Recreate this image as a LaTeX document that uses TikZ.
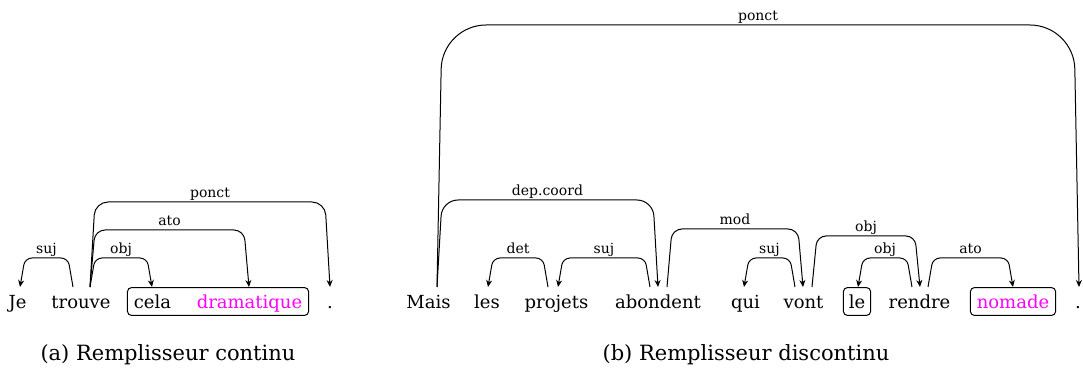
\documentclass[tikz,border=0pt]{standalone}
\usepackage{fontspec}
\setmainfont{DejaVu Serif}
\usetikzlibrary{arrows.meta,calc,fit}
\definecolor{pmag}{RGB}{255,0,255}
\newcommand\deparc[7]{%
  \draw[depedge, rounded corners=#5] (#1) -- ($(#1)+(#3*5,#4-287)$)
    -- node[lbl, midway, yshift=2pt] (#7) {#6} ($(#2)+(-#3*5,#4-287)$) -- (#2);}
\begin{document}
\begin{tikzpicture}[x=0.5pt,y=-0.5pt,
  word/.style={anchor=base, inner sep=0pt, font=\fontsize{9}{11}\selectfont, text height=8.5pt, text depth=2pt},
  hl/.style={text=pmag},
  fbox/.style={draw, rounded corners=2pt, line width=0.5pt, inner xsep=3pt, inner ysep=1.5pt},
  depedge/.style={line width=0.5pt, -{Stealth[length=3.5pt,width=3pt]}},
  lbl/.style={font=\fontsize{7}{8}\selectfont, anchor=base, inner sep=0pt},
  captxt/.style={anchor=base, font=\fontsize{10.5}{12}\selectfont, inner sep=0pt}]
\useasboundingbox (0,0) rectangle (1083,369);
% ---- (a) words
\node[word] (Je) at (17.5,308) {Je};
\node[word] (trouve) at (81,308) {trouve};
\node[word] (cela) at (152.5,308) {cela};
\node[word, hl] (dramatique) at (249.5,308) {dramatique};
\node[word] (pointa) at (330,308) {.};
\node[fbox, fit=(cela)(dramatique)] (boxa) {};
% ---- (b) words
\node[word] (Mais) at (428.5,308) {Mais};
\node[word] (les) at (487,308) {les};
\node[word] (projets) at (556.5,308) {projets};
\node[word] (abondent) at (658,308) {abondent};
\node[word] (qui) at (745.5,308) {qui};
\node[word] (vont) at (803.5,308) {vont};
\node[word] (le) at (857,308) {le};
\node[word] (rendre) at (919.5,308) {rendre};
\node[word, hl] (nomade) at (1013,308) {nomade};
\node[word] (pointb) at (1078,308) {.};
\node[fbox, inner xsep=2.5pt, fit=(le)] (boxle) {};
\node[fbox, fit=(nomade)] (boxnomade) {};
% ---- arc end points
\coordinate (Je-in) at (20,287);
\coordinate (trouve-o1) at (73,287);
\coordinate (trouve-o2) at (90,287);
\coordinate (cela-in) at (152,287);
\coordinate (dram-in) at (249,287);
\coordinate (pointa-in) at (330,287);
\coordinate (Mais-o) at (437,287);
\coordinate (les-in) at (488,287);
\coordinate (projets-o) at (548,287);
\coordinate (projets-in) at (558,287);
\coordinate (abondent-o1) at (650,287);
\coordinate (abondent-in) at (658,287);
\coordinate (abondent-o2) at (667,287);
\coordinate (qui-in) at (744,287);
\coordinate (vont-o1) at (795,287);
\coordinate (vont-in) at (803,287);
\coordinate (vont-o2) at (812,287);
\coordinate (le-in) at (858,287);
\coordinate (rendre-o1) at (912,287);
\coordinate (rendre-in) at (920,287);
\coordinate (rendre-o2) at (928,287);
\coordinate (nomade-in) at (1013,287);
\coordinate (pointb-in) at (1079,287);
% ---- (a) arcs
\deparc{trouve-o1}{Je-in}{-1}{258}{3.5pt}{suj}{la1}
\deparc{trouve-o2}{cela-in}{1}{258}{3.5pt}{obj}{la2}
\deparc{trouve-o2}{dram-in}{1}{230}{5pt}{ato}{la3}
\deparc{trouve-o2}{pointa-in}{1}{202}{6.5pt}{ponct}{la4}
% ---- (b) arcs
\deparc{Mais-o}{pointb-in}{1}{25}{22pt}{ponct}{lb1}
\deparc{Mais-o}{abondent-in}{1}{200}{8pt}{dep.coord}{lb2}
\deparc{projets-o}{les-in}{-1}{258}{3.5pt}{det}{lb3}
\deparc{abondent-o1}{projets-in}{-1}{258}{3.5pt}{suj}{lb4}
\deparc{abondent-o2}{vont-in}{1}{229}{5pt}{mod}{lb5}
\deparc{vont-o1}{qui-in}{-1}{258}{3.5pt}{suj}{lb6}
\deparc{vont-o2}{rendre-in}{1}{236}{4.5pt}{obj}{lb7}
\deparc{rendre-o1}{le-in}{-1}{258}{3.5pt}{obj}{lb8}
\deparc{rendre-o2}{nomade-in}{1}{258}{3.5pt}{ato}{lb9}
% ---- captions
\node[captxt] (capa) at (168,360) {(a) Remplisseur continu};
\node[captxt] (capb) at (746,360) {(b) Remplisseur discontinu};
\end{tikzpicture}
\end{document}
